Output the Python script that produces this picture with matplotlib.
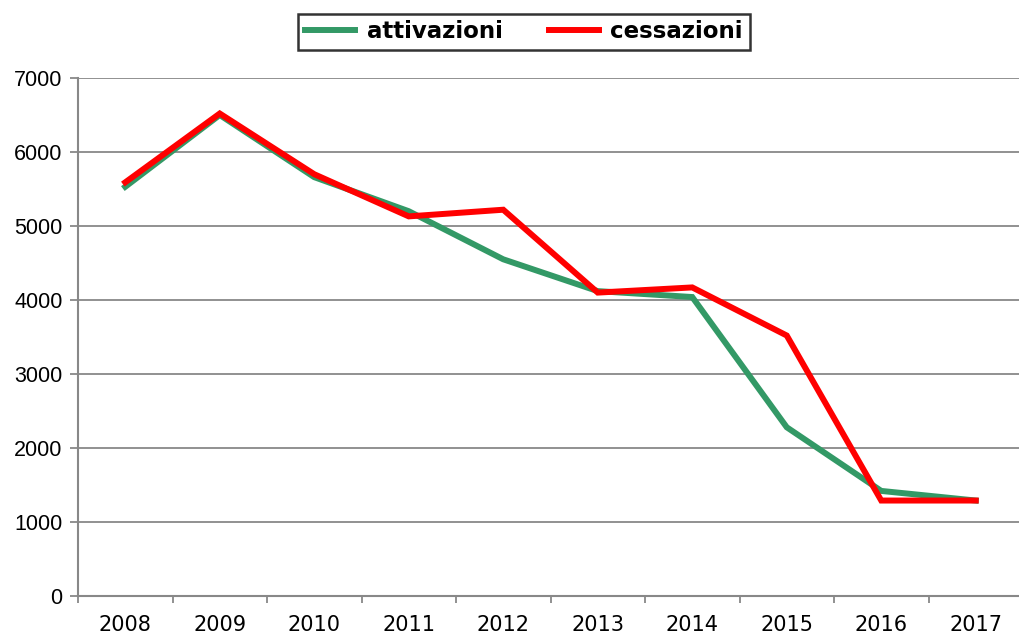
import matplotlib
matplotlib.use("Agg")
import matplotlib.pyplot as plt
import numpy as np

years = ["2008", "2009", "2010", "2011", "2012", "2013", "2014", "2015", "2016", "2017"]
attivazioni = [5530, 6500, 5660, 5200, 4550, 4120, 4040, 2280, 1420, 1290]
cessazioni = [5590, 6520, 5700, 5130, 5220, 4100, 4170, 3520, 1290, 1290]
yticks = [0, 1000, 2000, 3000, 4000, 5000, 6000, 7000]

fig = plt.figure(figsize=(10.2, 6.37), dpi=100)
ax = fig.add_axes([78/1020, 1 - 596/637, (1023 - 78)/1020, (596 - 78)/637])

x = np.arange(len(years))
ax.plot(x, attivazioni, color="#339966", lw=4.3, label="attivazioni", solid_joinstyle="miter")
ax.plot(x, cessazioni, color="#FF0000", lw=4.3, label="cessazioni", solid_joinstyle="miter")

ax.set_xlim(-0.5, len(years) - 0.5)
ax.set_ylim(0, 7000)
ax.set_yticks(yticks)
ax.set_yticklabels([str(v) for v in yticks], fontfamily="Liberation Sans", fontsize=15.5)
ax.set_xticks(x)
ax.set_xticklabels(years, fontfamily="DejaVu Sans", fontsize=15)
ax.tick_params(axis="x", which="major", length=0, pad=14)
ax.set_xticks(np.arange(-0.5, len(years), 1.0), minor=True)
ax.tick_params(axis="x", which="minor", length=5, color="#888888", width=1.3, direction="out")
ax.tick_params(axis="y", length=6, color="#888888", width=1.3, pad=5)

ax.grid(axis="y", color="#888888", lw=1.3)
ax.set_axisbelow(True)
for s in ["top", "right"]:
    ax.spines[s].set_visible(False)
for s in ["left", "bottom"]:
    ax.spines[s].set_color("#888888")
    ax.spines[s].set_linewidth(1.5)

leg = fig.legend(loc="center", bbox_to_anchor=(524/1020, 1 - 32/637), ncol=2,
                 prop={"family": "DejaVu Sans", "weight": "bold", "size": 16.5},
                 frameon=True, fancybox=False, handlelength=2.2, columnspacing=2.0,
                 borderpad=0.3, handletextpad=0.5)
leg.get_frame().set_edgecolor("black")
leg.get_frame().set_linewidth(1.8)

fig.savefig("out.png", dpi=100, facecolor="white")
